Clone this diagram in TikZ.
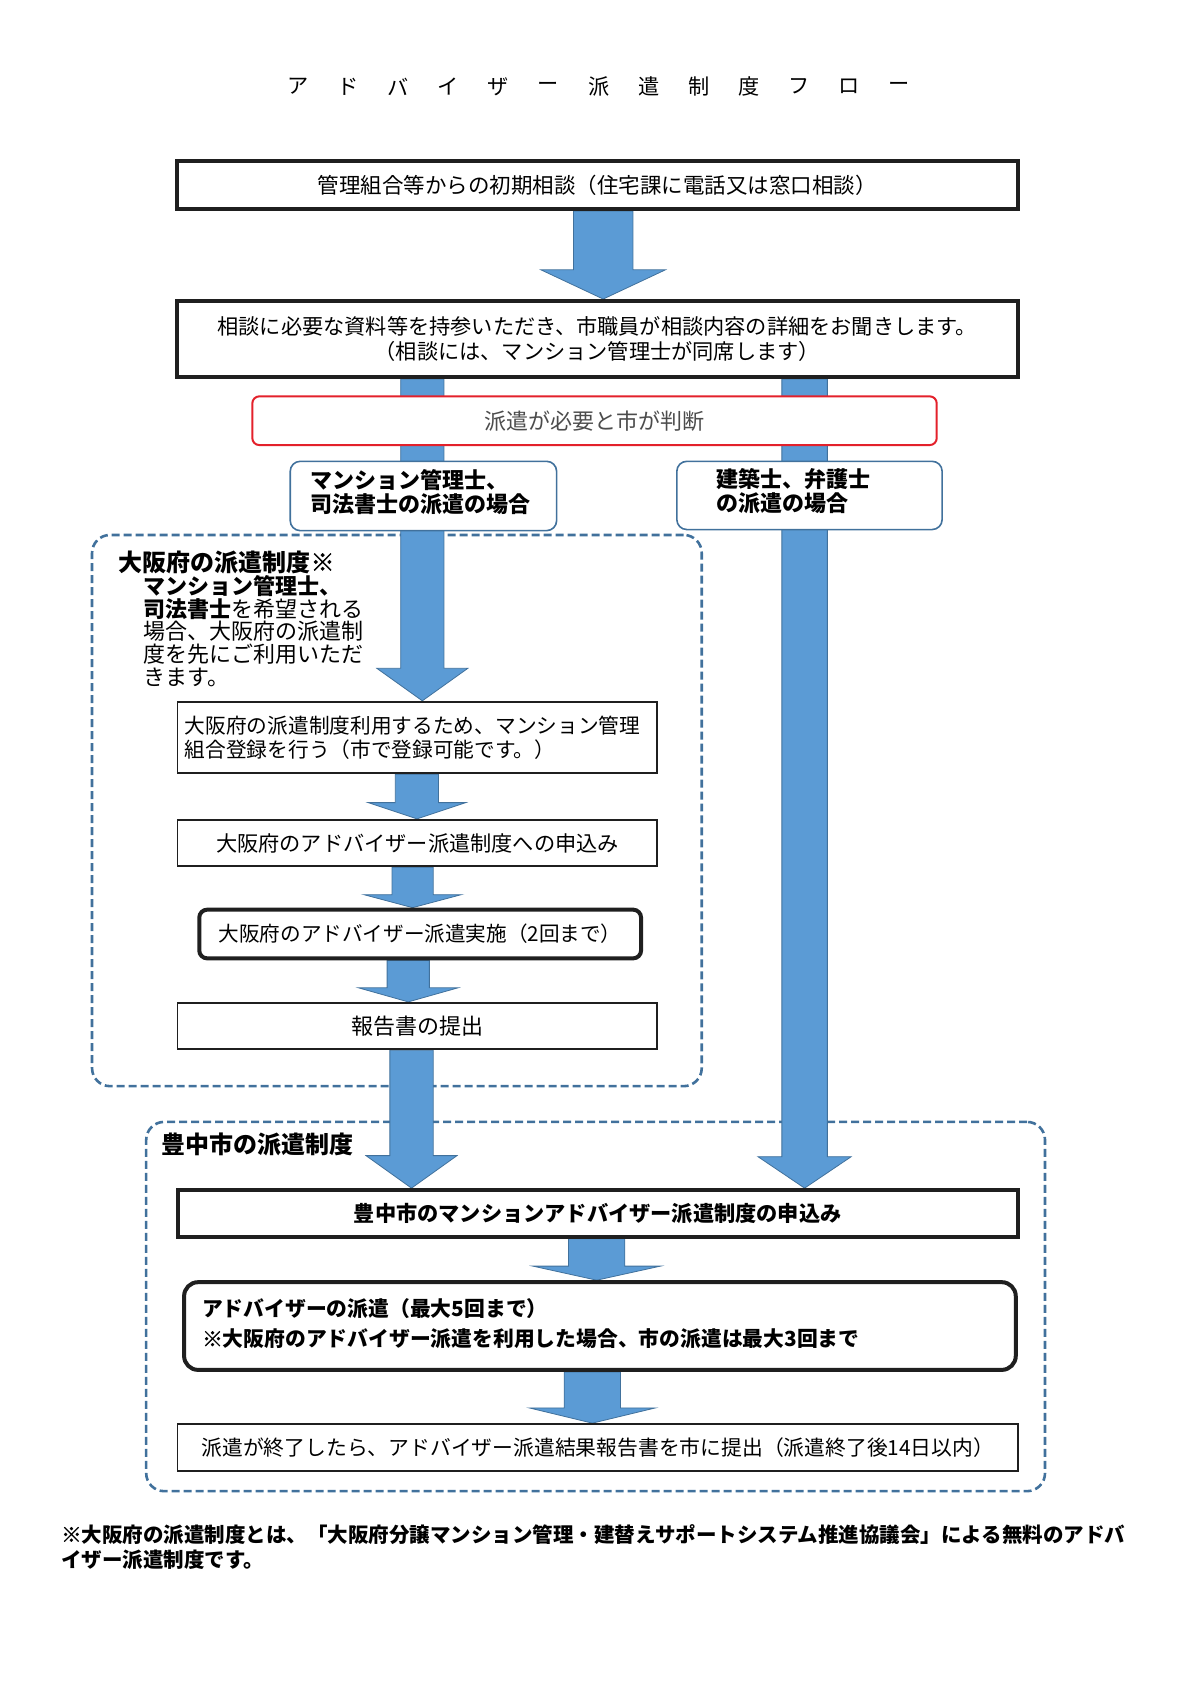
\documentclass[tikz,border=0pt]{standalone}
\usepackage{fontspec}
\setmainfont{Noto Sans CJK JP}
\usetikzlibrary{fit,calc}
\definecolor{arrowblue}{HTML}{5B9BD5}
\definecolor{arrowedge}{HTML}{41719C}
\definecolor{framered}{HTML}{E3212B}
\pgfdeclarelayer{back}
\pgfdeclarelayer{arrows}
\pgfsetlayers{back,arrows,main}
\newcommand{\kome}{{\addfontfeature{FakeBold=1.5}※}}

\tikzset{
  flowbox/.style={draw=black!88, fill=white, line width=0.9pt, inner sep=0pt},
  heavybox/.style={flowbox, line width=2pt},
  roundbox/.style={heavybox, rounded corners=4pt},
  judgebox/.style={draw=framered, fill=white, line width=1pt, rounded corners=3.5pt, inner sep=0pt},
  casebox/.style={draw=arrowedge, fill=white, line width=0.8pt, rounded corners=5pt, inner sep=0pt},
  region/.style={draw=arrowedge, line width=1.3pt, dash pattern=on 4pt off 2pt, rounded corners=9pt, inner sep=0pt},
  arrowfill/.style={fill=arrowblue, draw=arrowedge, line width=0.4pt},
  txt/.style={font=\fontsize{10.6}{12.5}\selectfont},
  boldtxt/.style={font=\fontsize{10.6}{12.5}\selectfont\bfseries},
}

% block arrow: column, start anchor, end anchor, shaft half, head half, head length
\newcommand{\flowarrow}[6]{%
  \draw[arrowfill] ($(#1|-#2)+(-#4,0)$) -- ($(#1|-#2)+(#4,0)$)
    -- ($(#1|-#3)+(#4,-#6)$) -- ($(#1|-#3)+(#5,-#6)$) -- (#1|-#3)
    -- ($(#1|-#3)+(-#5,-#6)$) -- ($(#1|-#3)+(-#4,-#6)$) -- cycle;}

\begin{document}
\begin{tikzpicture}[x=0.54147pt, y=-0.54147pt]
  \useasboundingbox (0,0) rectangle (1108.1,1568);

  % title
  \foreach \ch [count=\i from 0] in {ア,ド,バ,イ,ザ,ー,派,遣,制,度,フ,ロ,ー}
    \node[txt] (title\i) at ({275+46.3*\i},80) {\ch};

  % boxes
  \node[heavybox, fit={(163,149) (940,193)}] (b1) {};
  \node[font=\fontsize{10.75}{12.5}\selectfont] at (b1.center) {管理組合等からの初期相談（住宅課に電話又は窓口相談）};
  \node[heavybox, fit={(163,278) (940,348)}] (b2) {};
  \node[txt, align=center] at (b2.center) {相談に必要な資料等を持参いただき、市職員が相談内容の詳細をお聞きします。\\（相談には、マンション管理士が同席します）};

  \node[judgebox, fit={(233,366) (865,411)}] (judge) {};
  \node[font=\fontsize{11}{13}\selectfont, text=black!70] at (judge.center) {派遣が必要と市が判断};

  \node[casebox, fit={(268,426) (514,490)}] (caseL) {};
  \node[font=\fontsize{11}{11.6}\selectfont\bfseries, align=left, anchor=west] at ($(caseL.west)+(13,-3.5)$) {マンション管理士、\\司法書士の派遣の場合};
  \node[casebox, fit={(625,426) (870,489)}] (caseR) {};
  \node[font=\fontsize{11}{11.6}\selectfont\bfseries, align=left, anchor=west] at ($(caseR.west)+(31,-4)$) {建築士、弁護士\\の派遣の場合};

  % Osaka
  \node[anchor=west, font=\fontsize{12}{14}\selectfont\bfseries] (osakatitle) at (103,519) {大阪府の派遣制度\kome};
  \node[anchor=north west, align=left, font=\fontsize{11}{11.3}\selectfont] (osakanote) at (126,525)
    {{\bfseries マンション管理士、}\\{\bfseries 司法書士}を希望される\\場合、大阪府の派遣制\\度を先にご利用いただ\\きます。};

  \node[flowbox, fit={(164,648) (607,714)}] (b3) {};
  \node[font=\fontsize{10.35}{12}\selectfont, align=left, anchor=west] at ($(b3.west)+(1,0)$) {大阪府の派遣制度利用するため、マンション管理\\組合登録を行う（市で登録可能です。）};
  \node[flowbox, fit={(164,757) (607,800)}] (b4) {};
  \node[txt] at (b4.center) {大阪府のアドバイザー派遣制度への申込み};
  \node[roundbox, fit={(184,840) (592,885)}] (b5) {};
  \node[font=\fontsize{10.3}{12}\selectfont] at (b5.center) {大阪府のアドバイザー派遣実施（2回まで）};
  \node[flowbox, fit={(164,926) (607,969)}] (b6) {};
  \node[font=\fontsize{11}{13}\selectfont] at (b6.center) {報告書の提出};

  % Toyonaka
  \node[anchor=west, font=\fontsize{12}{14}\selectfont\bfseries] (toyotitle) at (143,1057) {豊中市の派遣制度};
  \node[heavybox, fit={(164,1099) (940,1142)}] (b7) {};
  \node[boldtxt] at (b7.center) {豊中市のマンションアドバイザー派遣制度の申込み};
  \node[roundbox, rounded corners=7pt, fit={(170,1184) (938,1265)}] (b8) {};
  \node[font=\fontsize{10.4}{14.8}\selectfont\bfseries, align=left, anchor=west] at ($(b8.west)+(12,-2)$) {アドバイザーの派遣（最大5回まで）\\\kome 大阪府のアドバイザー派遣を利用した場合、市の派遣は最大3回まで};
  \node[flowbox, fit={(164,1315) (940,1358)}] (b9) {};
  \node[font=\fontsize{10.4}{12}\selectfont] at (b9.center) {派遣が終了したら、アドバイザー派遣結果報告書を市に提出（派遣終了後14日以内）};

  % footnote
  \node[anchor=north west, align=left, font=\fontsize{10.25}{12.5}\selectfont\bfseries] (note) at (50,1401)
    {\kome 大阪府の派遣制度とは、「大阪府分譲マンション管理・建替えサポートシステム推進協議会」による無料のアドバ\\イザー派遣制度です。};

  % dashed regions
  \begin{pgfonlayer}{back}
    \node[region, fit={(85,494) (648,1003)}] (osaka) {};
    \node[region, fit={(135,1036) (965,1377)}] (toyo) {};
  \end{pgfonlayer}

  % arrows
  \coordinate (colTop) at (557,0);
  \coordinate (colL) at (390,0);
  \coordinate (colL2) at (385,0);
  \coordinate (colL3) at (381,0);
  \coordinate (colL4) at (377,0);
  \coordinate (colL5) at (380,0);
  \coordinate (colR) at (743,0);
  \coordinate (colB1) at (551,0);
  \coordinate (colB2) at (547,0);
  \begin{pgfonlayer}{arrows}
    \flowarrow{colTop}{b1.south}{b2.north}{27.5}{57.5}{27}
    \flowarrow{colL}{b2.south}{b3.north}{20}{42}{30}
    \flowarrow{colL2}{b3.south}{b4.north}{20}{45}{15}
    \flowarrow{colL3}{b4.south}{b5.north}{19}{45}{12}
    \flowarrow{colL4}{b5.south}{b6.north}{19.5}{46}{13}
    \flowarrow{colL5}{b6.south}{b7.north}{20}{42}{30}
    \flowarrow{colR}{b2.south}{b7.north}{21}{43}{29}
    \flowarrow{colB1}{b7.south}{b8.north}{26}{59}{13}
    \flowarrow{colB2}{b8.south}{b9.north}{26}{58}{14}
  \end{pgfonlayer}
\end{tikzpicture}
\end{document}
